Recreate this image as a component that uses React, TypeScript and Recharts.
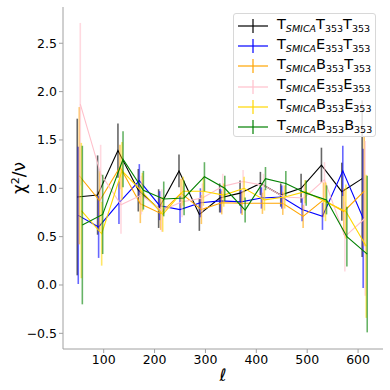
import React from 'react';
import { ComposedChart, Line, XAxis, YAxis, ErrorBar } from 'recharts';

const ells = [50, 90, 130, 170, 210, 250, 290, 330, 370, 410, 450, 490, 530, 570, 610];
const xTicks = [100, 200, 300, 400, 500, 600];
const yTicks = [-0.5, 0, 0.5, 1, 1.5, 2, 2.5];

const tttVals = [0.91, 0.93, 1.39, 0.98, 0.79, 1.18, 0.73, 0.9, 0.95, 1.05, 0.93, 1.0, 1.24, 0.965, 1.1];
const tttErr = [0.81, 0.41, 0.28, 0.22, 0.2, 0.17, 0.17, 0.15, 0.13, 0.12, 0.12, 0.15, 0.18, 0.3, 0.81];
const ettVals = [0.72, 0.6, 0.85, 1.08, 0.82, 0.78, 0.85, 0.87, 0.86, 0.9, 0.91, 0.78, 0.71, 1.18, 0.69];
const ettErr = [0.71, 0.32, 0.22, 0.17, 0.15, 0.14, 0.15, 0.12, 0.12, 0.11, 0.12, 0.12, 0.14, 0.26, 0.72];
const bttVals = [1.13, 0.87, 1.22, 0.84, 0.74, 0.95, 0.78, 0.85, 0.845, 0.845, 0.845, 0.71, 0.88, 0.76, 0.97];
const bttErr = [0.71, 0.31, 0.23, 0.2, 0.17, 0.15, 0.15, 0.12, 0.12, 0.11, 0.12, 0.12, 0.18, 0.24, 0.57];
const eeeVals = [1.87, 1.15, 0.83, 0.93, 0.77, 0.86, 0.9, 1.02, 1.07, 1.03, 0.91, 0.9, 1.09, 0.5, 0.69];
const eeeErr = [0.84, 0.3, 0.3, 0.2, 0.22, 0.16, 0.15, 0.13, 0.12, 0.12, 0.12, 0.12, 0.18, 0.36, 0.8];
const beeVals = [0.77, 0.53, 1.18, 0.96, 0.73, 0.97, 0.97, 0.93, 1.0, 0.88, 0.91, 0.965, 0.86, 0.76, 0.4];
const beeErr = [0.7, 0.33, 0.3, 0.2, 0.18, 0.15, 0.15, 0.12, 0.12, 0.11, 0.12, 0.12, 0.2, 0.28, 0.74];
const bbbVals = [0.62, 0.73, 1.3, 0.98, 0.89, 0.9, 1.12, 1.0, 0.775, 1.1, 1.05, 0.95, 0.88, 0.5, 0.32];
const bbbErr = [0.82, 0.41, 0.29, 0.2, 0.18, 0.18, 0.15, 0.13, 0.13, 0.12, 0.13, 0.13, 0.15, 0.31, 0.81];

const seriesDefs = [
  { key: 'ttt', a: 'T', b: 'T', color: '#000000', shift: -2, vals: tttVals, errs: tttErr },
  { key: 'ett', a: 'E', b: 'T', color: '#0000ff', shift: 0, vals: ettVals, errs: ettErr },
  { key: 'btt', a: 'B', b: 'T', color: '#ffa500', shift: 2, vals: bttVals, errs: bttErr },
  { key: 'eee', a: 'E', b: 'E', color: '#ffc0cb', shift: 4, vals: eeeVals, errs: eeeErr },
  { key: 'bee', a: 'B', b: 'E', color: '#ffd700', shift: 6, vals: beeVals, errs: beeErr },
  { key: 'bbb', a: 'B', b: 'B', color: '#008000', shift: 8, vals: bbbVals, errs: bbbErr },
];

const FONT = 'DejaVu Sans, sans-serif';
const fmtY = (v: number) => (v < 0 ? '\u2212' + Math.abs(v).toFixed(1) : v.toFixed(1));

function LegendBox() {
  return (
    <div
      style={{
        position: 'absolute',
        left: 233,
        top: 13,
        width: 143,
        height: 124,
        background: 'rgba(255,255,255,0.8)',
        border: '1px solid #d8d8d8',
        borderRadius: 3,
        boxSizing: 'border-box',
        fontFamily: FONT,
        paddingTop: 2,
      }}
    >
      {seriesDefs.map((s) => (
        <div key={s.key} style={{ display: 'flex', alignItems: 'center', height: 20.2 }}>
          <svg width={38} height={18} style={{ flex: 'none', marginLeft: 3 }}>
            <line x1={1} x2={31} y1={9} y2={9} stroke={s.color} strokeWidth={1.2} />
            <line x1={16} x2={16} y1={2} y2={16} stroke={s.color} strokeWidth={1.2} />
          </svg>
          <span style={{ fontSize: 14.5, color: '#000', whiteSpace: 'nowrap', lineHeight: '16px', marginLeft: 2 }}>
            T<sub style={{ fontSize: 9.5, fontStyle: 'italic', verticalAlign: '-3px' }}>SMICA</sub>
            {s.a}<sub style={{ fontSize: 9.5, verticalAlign: '-3px' }}>353</sub>
            {s.b}<sub style={{ fontSize: 9.5, verticalAlign: '-3px' }}>353</sub>
          </span>
        </div>
      ))}
    </div>
  );
}

export default function App() {
  return (
    <div style={{ position: 'absolute', left: 0, top: 0, width: 390, height: 390, background: '#fff', fontFamily: FONT }}>
      <ComposedChart width={390} height={390} margin={{ top: 7, right: 7, bottom: 11, left: 8 }}>
        <XAxis
          xAxisId="main"
          type="number"
          dataKey="x"
          domain={[20, 649]}
          ticks={xTicks}
          allowDataOverflow
          stroke="#a0a0a0"
          tickLine={{ stroke: '#a0a0a0' }}
          tickSize={4}
          tick={{ fill: '#000', fontSize: 12.5, fontFamily: FONT }}
          height={30}
        />
        <XAxis xAxisId="top" orientation="top" type="number" domain={[0, 1]} tick={false} tickLine={false} height={0} stroke="#a0a0a0" />
        <YAxis
          yAxisId="main"
          type="number"
          domain={[-0.662, 2.875]}
          ticks={yTicks}
          allowDataOverflow
          tickFormatter={fmtY}
          stroke="#a0a0a0"
          tickLine={{ stroke: '#a0a0a0' }}
          tickSize={4}
          tick={{ fill: '#000', fontSize: 12.5, fontFamily: FONT }}
          width={55}
        />
        <YAxis yAxisId="right" orientation="right" type="number" domain={[0, 1]} tick={false} tickLine={false} width={0} stroke="#a0a0a0" />
        {seriesDefs.map((s) => (
          <Line
            key={s.key}
            xAxisId="main"
            yAxisId="main"
            data={ells.map((l, i) => ({ x: l + s.shift, y: s.vals[i], err: s.errs[i] }))}
            dataKey="y"
            stroke={s.color}
            strokeWidth={1.1}
            dot={false}
            activeDot={false}
            isAnimationActive={false}
          >
            <ErrorBar dataKey="err" direction="y" width={0} stroke={s.color} strokeWidth={1.6} strokeOpacity={0.6} isAnimationActive={false} />
          </Line>
        ))}
      </ComposedChart>
      <div
        style={{
          position: 'absolute',
          left: 19,
          top: 178,
          transform: 'translate(-50%, -50%) rotate(-90deg)',
          fontSize: 17,
          whiteSpace: 'nowrap',
          fontFamily: FONT,
        }}
      >
        χ<sup style={{ fontSize: 11 }}>2</sup>/ν
      </div>
      <div
        style={{
          position: 'absolute',
          left: 223,
          top: 375,
          transform: 'translate(-50%, -50%)',
          fontSize: 17,
          fontStyle: 'italic',
          fontFamily: FONT,
        }}
      >
        ℓ
      </div>
      <LegendBox />
    </div>
  );
}
